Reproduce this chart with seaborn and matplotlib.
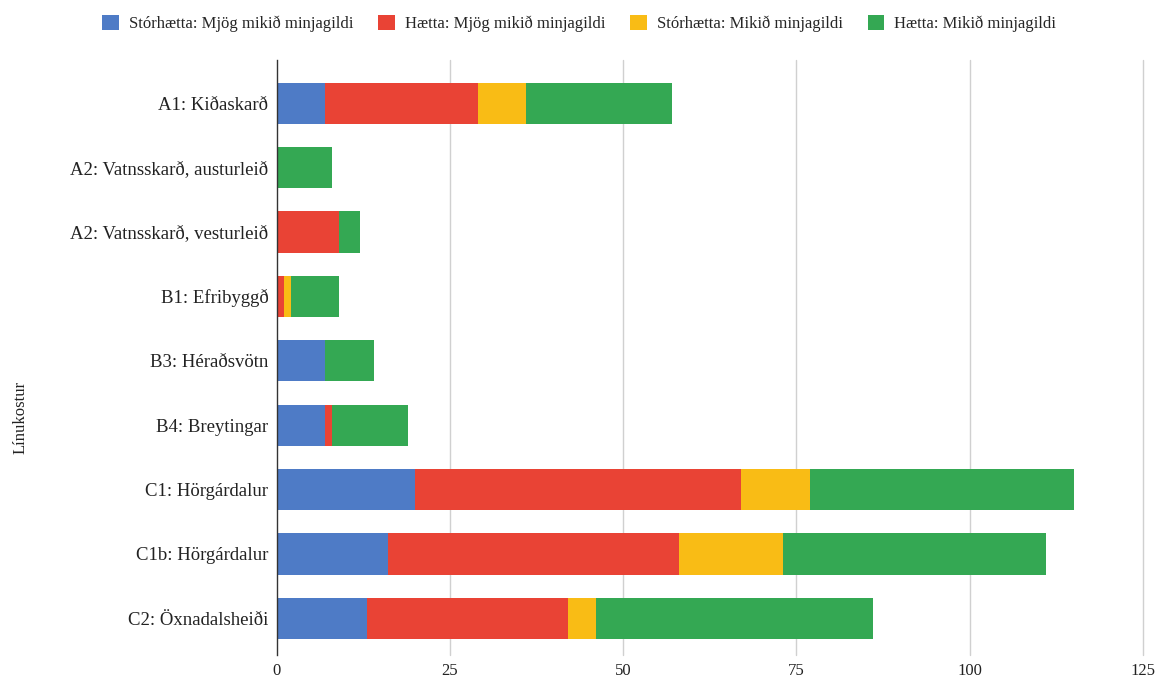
import numpy as np
import pandas as pd
import matplotlib
matplotlib.use("Agg")
import matplotlib.pyplot as plt
import seaborn as sns
from matplotlib.patches import Patch

routes = [
    "A1: Kiðaskarð",
    "A2: Vatnsskarð, austurleið",
    "A2: Vatnsskarð, vesturleið",
    "B1: Efribyggð",
    "B3: Héraðsvötn",
    "B4: Breytingar",
    "C1: Hörgárdalur",
    "C1b: Hörgárdalur",
    "C2: Öxnadalsheiði",
]
series_names = [
    "Stórhætta: Mjög mikið minjagildi",
    "Hætta: Mjög mikið minjagildi",
    "Stórhætta: Mikið minjagildi",
    "Hætta: Mikið minjagildi",
]
storhaetta_mjog = [7, 0, 0, 0, 7, 7, 20, 16, 13]
haetta_mjog = [22, 0, 9, 1, 0, 1, 47, 42, 29]
storhaetta_mikid = [7, 0, 0, 1, 0, 0, 10, 15, 4]
haetta_mikid = [21, 8, 3, 7, 7, 11, 38, 38, 40]
colors = ["#4E7BC6", "#E94335", "#F9BC15", "#34A853"]

sns.set_style("white")
plt.rcParams["font.family"] = ["Liberation Serif", "DejaVu Serif"]

df = pd.DataFrame({
    "route": routes,
    series_names[0]: storhaetta_mjog,
    series_names[1]: haetta_mjog,
    series_names[2]: storhaetta_mikid,
    series_names[3]: haetta_mikid,
})
cum = df[series_names].cumsum(axis=1)

fig = plt.figure(figsize=(11.58, 6.83), dpi=100)
ax = fig.add_axes([0.239, 0.041, 0.748, 0.871])
ax.set_axisbelow(True)

# draw cumulative totals back to front so the stack shows through
for name, color in reversed(list(zip(series_names, colors))):
    sns.barplot(x=cum[name], y=df["route"], color=color, width=0.64,
                orient="h", ax=ax, saturation=1, linewidth=0)

ax.set_xlim(0, 125)
ax.set_xticks([0, 25, 50, 75, 100, 125])
for v in [25, 50, 75, 100, 125]:
    ax.axvline(v, color="#d0d0d0", linewidth=1, zorder=0, clip_on=False)
ax.set_ylim(8.57, -0.67)
for s in ["top", "right", "bottom"]:
    ax.spines[s].set_visible(False)
ax.spines["left"].set_color("#333333")
ax.spines["left"].set_linewidth(1)
ax.tick_params(axis="y", length=0, labelsize=13.5, colors="#222222", pad=6)
ax.tick_params(axis="x", length=0, labelsize=12, colors="#222222", pad=6)
ax.set_xlabel("")
ax.set_ylabel("Línukostur", fontsize=12, color="#222222")
ax.yaxis.set_label_coords(-0.287, 0.4)

handles = [Patch(facecolor=c, edgecolor="none") for c in colors]
fig.legend(handles, series_names, loc="upper center", bbox_to_anchor=(0.5, 1.0),
           ncol=4, frameon=False, fontsize=12, handlelength=1.0, handleheight=1.0,
           columnspacing=1.5, handletextpad=0.6)

fig.savefig("out.png", dpi=100)
